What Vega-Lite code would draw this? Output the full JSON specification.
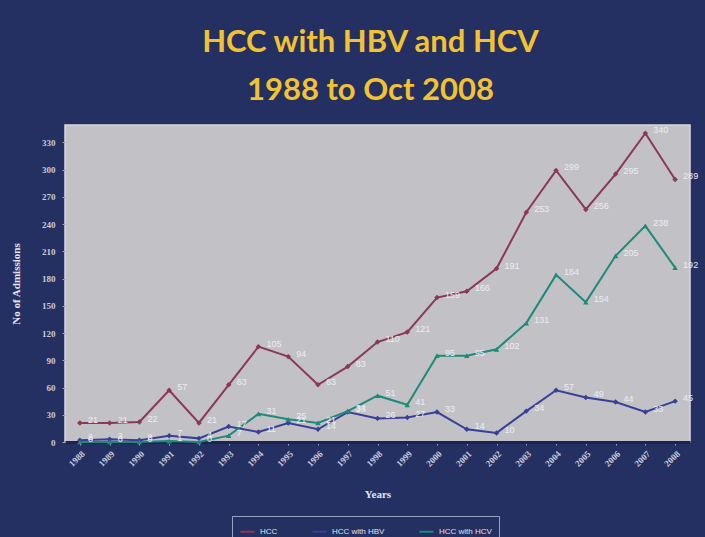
{
  "$schema": "https://vega.github.io/schema/vega-lite/v6.json",
  "autosize": "none",
  "width": 625,
  "height": 317,
  "padding": {"left": 65, "top": 125, "right": 15, "bottom": 95},
  "background": "#243062",
  "title": {
    "text": ["HCC with HBV and HCV", "1988 to Oct 2008"],
    "font": "Lato",
    "fontWeight": "bold",
    "fontSize": 31,
    "lineHeight": 48,
    "color": "#f2c232",
    "anchor": "middle",
    "dx": -7,
    "offset": 18
  },
  "config": {
    "view": {"fill": "#c2c2c6", "stroke": "#d8d8e2", "strokeWidth": 1.5},
    "axis": {
      "labelFont": "Liberation Serif",
      "labelFontWeight": "bold",
      "labelFontSize": 9,
      "labelColor": "#c9cad9",
      "titleFont": "Liberation Serif",
      "titleFontWeight": "bold",
      "titleFontSize": 11,
      "titleColor": "#e6e6ee",
      "grid": false,
      "tickColor": "#9aa0c0",
      "tickSize": 3
    }
  },
  "data": {
    "values": [
      {"year": "1988", "series": "HCC", "value": 21},
      {"year": "1989", "series": "HCC", "value": 21},
      {"year": "1990", "series": "HCC", "value": 22},
      {"year": "1991", "series": "HCC", "value": 57},
      {"year": "1992", "series": "HCC", "value": 21},
      {"year": "1993", "series": "HCC", "value": 63},
      {"year": "1994", "series": "HCC", "value": 105},
      {"year": "1995", "series": "HCC", "value": 94},
      {"year": "1996", "series": "HCC", "value": 63},
      {"year": "1997", "series": "HCC", "value": 83},
      {"year": "1998", "series": "HCC", "value": 110},
      {"year": "1999", "series": "HCC", "value": 121},
      {"year": "2000", "series": "HCC", "value": 159},
      {"year": "2001", "series": "HCC", "value": 166},
      {"year": "2002", "series": "HCC", "value": 191},
      {"year": "2003", "series": "HCC", "value": 253},
      {"year": "2004", "series": "HCC", "value": 299},
      {"year": "2005", "series": "HCC", "value": 256},
      {"year": "2006", "series": "HCC", "value": 295},
      {"year": "2007", "series": "HCC", "value": 340},
      {"year": "2008", "series": "HCC", "value": 289},
      {"year": "1988", "series": "HCC with HBV", "value": 2},
      {"year": "1989", "series": "HCC with HBV", "value": 3},
      {"year": "1990", "series": "HCC with HBV", "value": 2},
      {"year": "1991", "series": "HCC with HBV", "value": 7},
      {"year": "1992", "series": "HCC with HBV", "value": 4},
      {"year": "1993", "series": "HCC with HBV", "value": 17},
      {"year": "1994", "series": "HCC with HBV", "value": 11},
      {"year": "1995", "series": "HCC with HBV", "value": 21},
      {"year": "1996", "series": "HCC with HBV", "value": 14},
      {"year": "1997", "series": "HCC with HBV", "value": 33},
      {"year": "1998", "series": "HCC with HBV", "value": 26},
      {"year": "1999", "series": "HCC with HBV", "value": 27},
      {"year": "2000", "series": "HCC with HBV", "value": 33},
      {"year": "2001", "series": "HCC with HBV", "value": 14},
      {"year": "2002", "series": "HCC with HBV", "value": 10},
      {"year": "2003", "series": "HCC with HBV", "value": 34},
      {"year": "2004", "series": "HCC with HBV", "value": 57},
      {"year": "2005", "series": "HCC with HBV", "value": 49},
      {"year": "2006", "series": "HCC with HBV", "value": 44},
      {"year": "2007", "series": "HCC with HBV", "value": 33},
      {"year": "2008", "series": "HCC with HBV", "value": 45},
      {"year": "1988", "series": "HCC with HCV", "value": 0},
      {"year": "1989", "series": "HCC with HCV", "value": 0},
      {"year": "1990", "series": "HCC with HCV", "value": 0},
      {"year": "1991", "series": "HCC with HCV", "value": 1},
      {"year": "1992", "series": "HCC with HCV", "value": 0},
      {"year": "1993", "series": "HCC with HCV", "value": 7},
      {"year": "1994", "series": "HCC with HCV", "value": 31},
      {"year": "1995", "series": "HCC with HCV", "value": 25},
      {"year": "1996", "series": "HCC with HCV", "value": 21},
      {"year": "1997", "series": "HCC with HCV", "value": 34},
      {"year": "1998", "series": "HCC with HCV", "value": 51},
      {"year": "1999", "series": "HCC with HCV", "value": 41},
      {"year": "2000", "series": "HCC with HCV", "value": 95},
      {"year": "2001", "series": "HCC with HCV", "value": 95},
      {"year": "2002", "series": "HCC with HCV", "value": 102},
      {"year": "2003", "series": "HCC with HCV", "value": 131},
      {"year": "2004", "series": "HCC with HCV", "value": 184},
      {"year": "2005", "series": "HCC with HCV", "value": 154},
      {"year": "2006", "series": "HCC with HCV", "value": 205},
      {"year": "2007", "series": "HCC with HCV", "value": 238},
      {"year": "2008", "series": "HCC with HCV", "value": 192}
    ]
  },
  "encoding": {
    "x": {
      "field": "year",
      "type": "ordinal",
      "scale": {"type": "point", "padding": 0.5},
      "axis": {
        "title": "Years",
        "labelAngle": -45,
        "labelPadding": 4,
        "domainColor": "#1b2355",
        "domainWidth": 3,
        "titlePadding": 20
      }
    },
    "y": {
      "field": "value",
      "type": "quantitative",
      "scale": {"domain": [0, 349], "nice": false},
      "axis": {
        "title": "No of Admissions",
        "values": [0, 30, 60, 90, 120, 150, 180, 210, 240, 270, 300, 330],
        "domain": false,
        "labelPadding": 7,
        "titlePadding": 20
      }
    },
    "color": {
      "field": "series",
      "type": "nominal",
      "scale": {
        "domain": ["HCC", "HCC with HBV", "HCC with HCV"],
        "range": ["#8a3856", "#3a3e98", "#1e8a78"]
      },
      "legend": {
        "title": null,
        "orient": "none",
        "direction": "horizontal",
        "legendX": 167,
        "legendY": 391,
        "symbolType": "stroke",
        "symbolStrokeWidth": 2,
        "symbolSize": 200,
        "labelColor": "#e0e0ea",
        "labelFont": "Liberation Sans",
        "labelFontSize": 8,
        "columnPadding": 30,
        "strokeColor": "#9aa0c0",
        "padding": 7
      }
    }
  },
  "layer": [
    {"mark": {"type": "line", "strokeWidth": 2}},
    {
      "transform": [{"filter": "datum.series !== 'HCC with HCV'"}],
      "mark": {"type": "point", "filled": true, "size": 30, "opacity": 1, "shape": "diamond"}
    },
    {
      "transform": [{"filter": "datum.series === 'HCC with HCV'"}],
      "mark": {"type": "point", "filled": true, "size": 30, "opacity": 1, "shape": "triangle-up"}
    },
    {
      "mark": {"type": "text", "align": "left", "dx": 8, "dy": -3, "fontSize": 9, "font": "Liberation Sans", "color": "#ececf2"},
      "encoding": {
        "text": {"field": "value", "type": "quantitative"},
        "color": {"value": "#ececf2"}
      }
    }
  ]
}
